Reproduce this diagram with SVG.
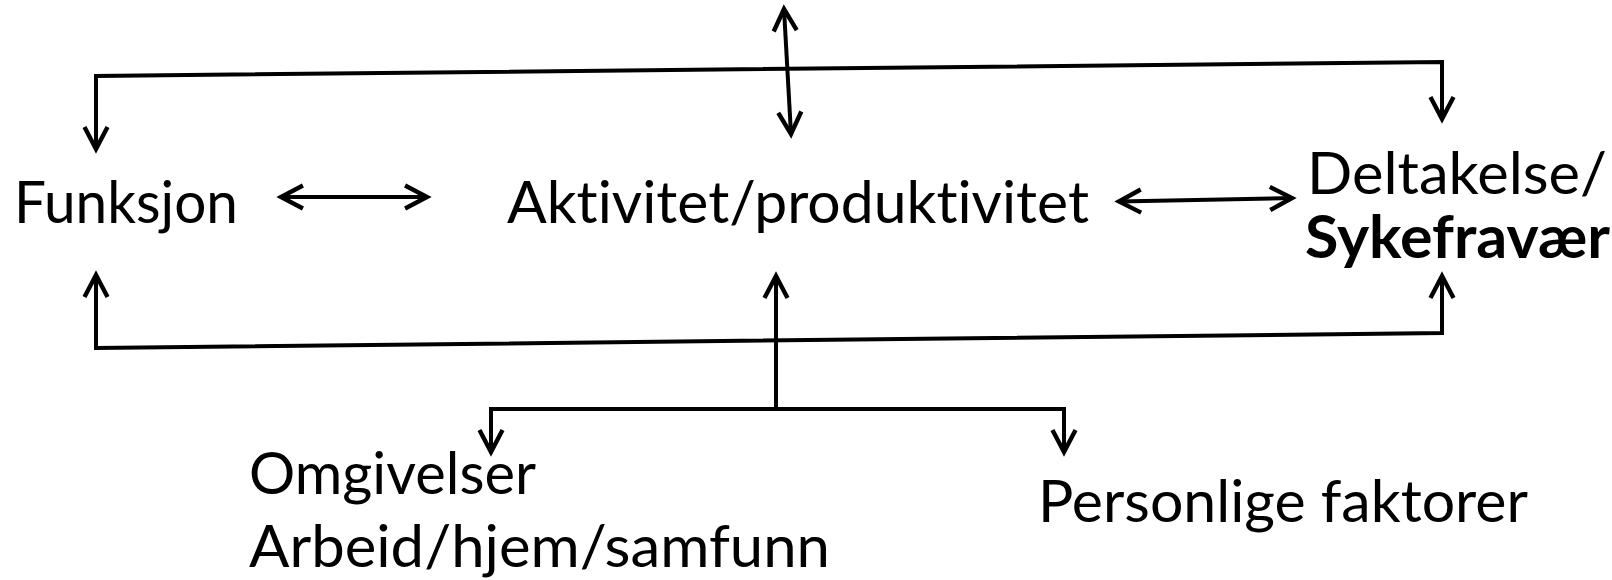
<svg xmlns="http://www.w3.org/2000/svg" width="1612" height="580" viewBox="0 0 1612 580">
  <style>
    .lbl { font-family: Lato, "Open Sans", "Liberation Sans", sans-serif; font-size: 59px; fill: #000; font-variant-ligatures: none; font-feature-settings: "liga" 0; }
    .bold { font-weight: bold; }
    .conn { fill: none; stroke: #000; stroke-width: 4; stroke-linejoin: miter; }
  </style>
  <defs>
    <marker id="head" markerUnits="userSpaceOnUse" markerWidth="30" markerHeight="30" viewBox="-22 -13 26 26" refX="0" refY="0" orient="auto-start-reverse">
      <path d="M-19,-10 L0,0 L-19,10" fill="none" stroke="#000" stroke-width="3.8"/>
    </marker>
  </defs>
  <rect width="1612" height="580" fill="#fff"/>

  <g id="connectors">
    <!-- upper bracket: Funksjon <- -> Deltakelse -->
    <path class="conn" d="M96,149 L96,76 L1442,62 L1442,119" marker-start="url(#head)" marker-end="url(#head)"/>
    <!-- vertical double arrow through the upper bracket -->
    <path class="conn" d="M784,9 L791,134" marker-start="url(#head)" marker-end="url(#head)"/>
    <!-- lower bracket: up to Funksjon and Sykefravær -->
    <path class="conn" d="M96,275 L96,348 L1442,333 L1442,276" marker-start="url(#head)" marker-end="url(#head)"/>
    <!-- centre stem up to Aktivitet -->
    <path class="conn" d="M776,409 L776,276" marker-end="url(#head)"/>
    <!-- branch down to Omgivelser and Personlige faktorer -->
    <path class="conn" d="M491,452 L491,409 L1064,409 L1064,452" marker-start="url(#head)" marker-end="url(#head)"/>
    <!-- horizontal double arrows between the main row -->
    <path class="conn" d="M281,197 L427,197" marker-start="url(#head)" marker-end="url(#head)"/>
    <path class="conn" d="M1119,201.5 L1292,198" marker-start="url(#head)" marker-end="url(#head)"/>
  </g>

  <g id="funksjon">
    <text class="lbl" x="14" y="223" textLength="224" lengthAdjust="spacingAndGlyphs">Funksjon</text>
  </g>
  <g id="aktivitet">
    <text class="lbl" x="507" y="223" textLength="582" lengthAdjust="spacingAndGlyphs">Aktivitet/produktivitet</text>
  </g>
  <g id="deltakelse">
    <text class="lbl"><tspan x="1307" y="194" textLength="300" lengthAdjust="spacingAndGlyphs">Deltakelse/</tspan><tspan class="bold" x="1305" y="258" textLength="305" lengthAdjust="spacingAndGlyphs">Sykefravær</tspan></text>
  </g>
  <g id="omgivelser">
    <text class="lbl"><tspan x="249" y="494" textLength="287" lengthAdjust="spacingAndGlyphs">Omgivelser</tspan><tspan x="249" y="567" textLength="581" lengthAdjust="spacingAndGlyphs">Arbeid/hjem/samfunn</tspan></text>
  </g>
  <g id="personlige">
    <text class="lbl" x="1038" y="522" textLength="490" lengthAdjust="spacingAndGlyphs">Personlige faktorer</text>
  </g>
</svg>
